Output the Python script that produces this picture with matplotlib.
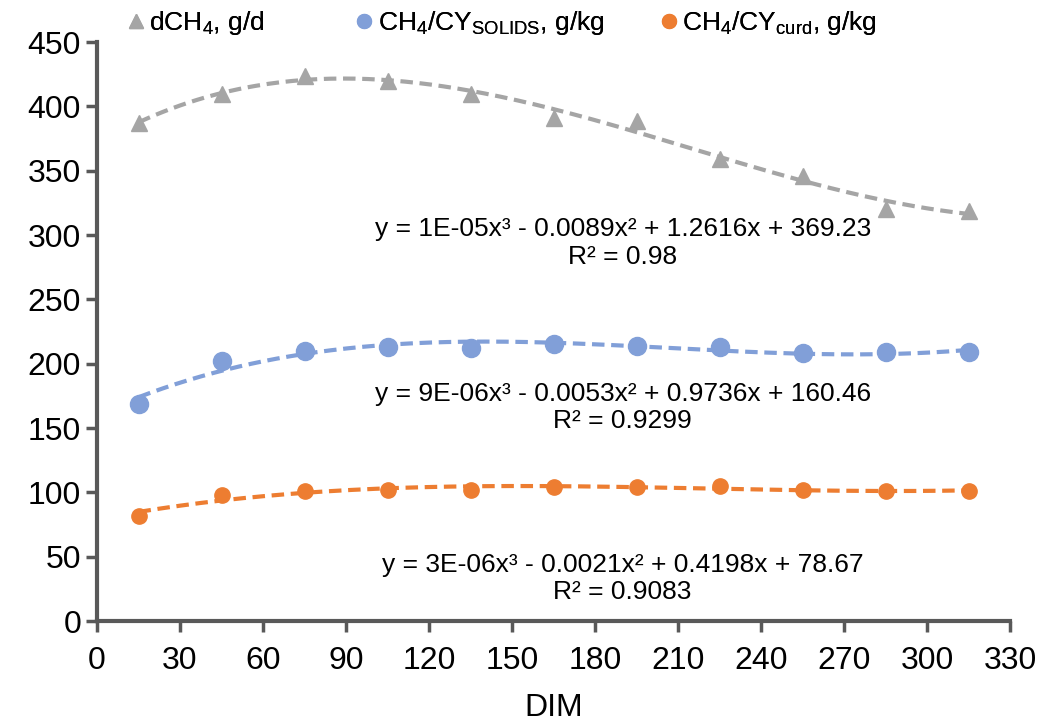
import numpy as np
import matplotlib
matplotlib.use("Agg")
import matplotlib.pyplot as plt
from matplotlib.lines import Line2D

plt.rcParams['font.family'] = ['Liberation Sans', 'DejaVu Sans']
plt.rcParams['mathtext.fontset'] = 'custom'
plt.rcParams['mathtext.rm'] = 'Liberation Sans'
plt.rcParams['mathtext.it'] = 'Liberation Sans'

dim = [15, 45, 75, 105, 135, 165, 195, 225, 255, 285, 315]
dch4 = [387, 410, 424, 420, 410, 391, 389, 359, 346, 320, 319]
ch4_solids = [169, 202, 210, 213, 212, 215, 214, 213, 208, 209, 209]
ch4_curd = [82, 98, 101, 102, 102, 104, 104, 105, 102, 101, 101]

eq_texts = [
    "y = 1E-05x³ - 0.0089x² + 1.2616x + 369.23\nR² = 0.98",
    "y = 9E-06x³ - 0.0053x² + 0.9736x + 160.46\nR² = 0.9299",
    "y = 3E-06x³ - 0.0021x² + 0.4198x + 78.67\nR² = 0.9083",
]
eq_pos = [(190, 294), (190, 166), (190, 33)]

grey = '#A5A5A5'
blue = '#819FD8'
orange = '#ED7D31'
axis_col = '#595959'

fig = plt.figure(figsize=(10.42, 7.25), dpi=100)
ax = fig.add_axes([0.0931, 0.1434, 0.8762, 0.7986])

xs = np.linspace(15, 315, 200)
series = [(dch4, grey, '^', 11), (ch4_solids, blue, 'o', 13), (ch4_curd, orange, 'o', 11)]
for vals, col, mk, ms in series:
    ax.plot(dim, vals, linestyle='none', marker=mk, color=col, markersize=ms)
    coef = np.polyfit(dim, vals, 3)
    ax.plot(xs, np.polyval(coef, xs), linestyle=(0, (3, 1.6)), color=col, lw=3)

for txt, (x, y) in zip(eq_texts, eq_pos):
    ax.text(x, y, txt, ha='center', va='center', fontsize=19, linespacing=1.2)

ax.set_xlim(0, 330)
ax.set_ylim(0, 450)
ax.set_xticks(range(0, 331, 30))
ax.set_yticks(range(0, 451, 50))
ax.tick_params(labelsize=23, color=axis_col, width=2.5, length=8)
ax.tick_params(axis='x', pad=10)
for s in ['top', 'right']:
    ax.spines[s].set_visible(False)
for s in ['left', 'bottom']:
    ax.spines[s].set_color(axis_col)
    ax.spines[s].set_linewidth(3)
ax.set_xlabel('DIM', fontsize=23, labelpad=12)

# legend entries placed one by one along the top
handles = [
    Line2D([], [], linestyle='none', marker='^', color=grey, markersize=10),
    Line2D([], [], linestyle='none', marker='o', color=blue, markersize=10),
    Line2D([], [], linestyle='none', marker='o', color=orange, markersize=10),
]
labels = ['dCH$_{4}$, g/d', 'CH$_{4}$/CY$_{\\mathrm{SOLIDS}}$, g/kg', 'CH$_{4}$/CY$_{\\mathrm{curd}}$, g/kg']
leg_x = [0.118, 0.337, 0.629]
for h, lab, lx in zip(handles, labels, leg_x):
    leg = fig.legend([h], [lab], loc='center left', bbox_to_anchor=(lx, 0.968),
                     frameon=False, fontsize=19, handletextpad=0.0,
                     handlelength=1.0, borderaxespad=0, borderpad=0)
    fig.add_artist(leg)

fig.savefig('out.png', dpi=100)
